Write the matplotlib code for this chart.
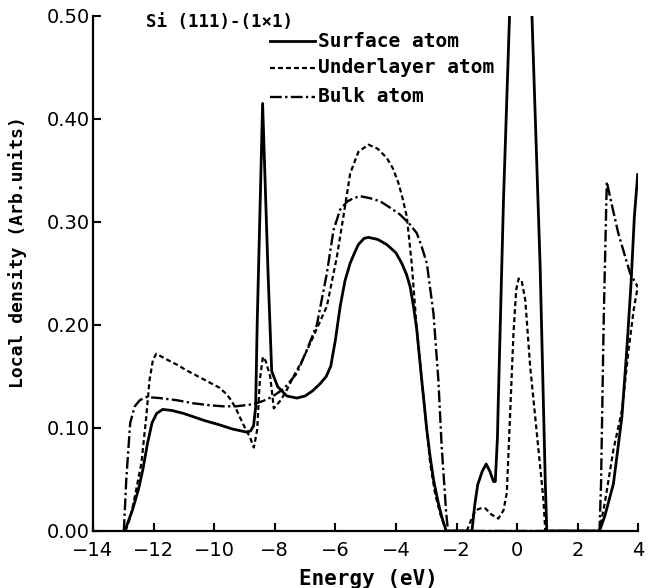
#! /usr/bin/env python

# Local density of states for Si(111)-(1x1): surface, underlayer, bulk atoms

import numpy as np
import matplotlib
matplotlib.use("Agg")
import matplotlib.pyplot as plt
from matplotlib.lines import Line2D

# surface atom (solid)
surf_E = [-12.95, -12.7, -12.5, -12.35, -12.2, -12.05, -11.9, -11.7, -11.4, -11.0,
          -10.7, -10.3, -9.82, -9.4, -8.94, -8.8, -8.7, -8.63, -8.58, -8.4,
          -8.22, -8.1, -7.9, -7.6, -7.27, -7.0, -6.75, -6.5, -6.3, -6.15,
          -6.0, -5.84, -5.68, -5.51, -5.35, -5.24, -5.05, -4.91, -4.6, -4.3,
          -4.0, -3.81, -3.65, -3.53, -3.42, -3.31, -3.15, -2.98, -2.87, -2.76,
          -2.6, -2.49, -2.34, -1.49, -1.4, -1.3, -1.15, -1.02, -0.9, -0.78,
          -0.72, -0.65, -0.62, -0.45, -0.25, 0.12, 0.49, 0.76, 0.93, 0.98,
          2.72, 2.9, 3.18, 3.46, 3.62, 3.76, 3.87, 3.98]
surf_D = [0.0, 0.02, 0.04, 0.06, 0.085, 0.105, 0.114, 0.118, 0.117, 0.114,
          0.111, 0.107, 0.103, 0.099, 0.096, 0.097, 0.102, 0.12, 0.2, 0.415,
          0.25, 0.155, 0.14, 0.131, 0.129, 0.131, 0.136, 0.143, 0.15, 0.16,
          0.185, 0.218, 0.243, 0.26, 0.271, 0.278, 0.284, 0.285, 0.283, 0.278,
          0.27, 0.26, 0.249, 0.237, 0.218, 0.195, 0.147, 0.098, 0.072, 0.05,
          0.027, 0.014, 0.0, 0.0, 0.025, 0.045, 0.058, 0.065, 0.058, 0.048,
          0.048, 0.09, 0.127, 0.321, 0.5, 0.85, 0.5, 0.257, 0.047, 0.0,
          0.0, 0.015, 0.046, 0.111, 0.176, 0.24, 0.305, 0.346]

# underlayer atom (short dashes)
under_E = [-12.92, -12.75, -12.62, -12.4, -12.24, -12.13, -12.02, -11.91, -11.6, -11.2,
           -10.92, -10.4, -9.82, -9.6, -9.49, -9.3, -9.16, -8.95, -8.83, -8.69,
           -8.58, -8.49, -8.39, -8.3, -8.15, -8.03, -7.8, -7.6, -7.38, -7.1,
           -6.83, -6.28, -5.95, -5.68, -5.51, -5.24, -4.91, -4.6, -4.3, -4.1,
           -3.92, -3.78, -3.64, -3.48, -3.31, -3.09, -2.87, -2.7, -2.54, -2.35,
           -1.66, -1.5, -1.38, -1.2, -1.05, -0.85, -0.62, -0.45, -0.34, -0.25,
           -0.12, -0.03, 0.05, 0.15, 0.27, 0.43, 0.65, 0.87, 0.93, 2.72,
           2.91, 3.18, 3.46, 3.68, 3.85, 3.98]
under_D = [0.0, 0.015, 0.033, 0.066, 0.111, 0.147, 0.166, 0.172, 0.167, 0.161,
           0.156, 0.148, 0.139, 0.133, 0.129, 0.12, 0.111, 0.098, 0.092, 0.081,
           0.098, 0.147, 0.169, 0.165, 0.15, 0.119, 0.127, 0.137, 0.15, 0.165,
           0.182, 0.218, 0.266, 0.315, 0.347, 0.368, 0.375, 0.371, 0.362, 0.352,
           0.338, 0.323, 0.305, 0.26, 0.195, 0.13, 0.066, 0.035, 0.017, 0.0,
           0.0, 0.012, 0.02, 0.022, 0.022, 0.016, 0.012, 0.02, 0.037, 0.1,
           0.192, 0.234, 0.245, 0.243, 0.224, 0.16, 0.095, 0.03, 0.0, 0.0,
           0.03, 0.079, 0.117, 0.176, 0.215, 0.237]

# bulk atom (dash-dot)
bulk_E = [-12.98, -12.9, -12.77, -12.62, -12.45, -12.24, -11.8, -11.25, -10.7, -10.15,
          -9.7, -9.27, -8.72, -8.4, -8.1, -7.7, -7.27, -6.95, -6.61, -6.28,
          -6.06, -5.84, -5.6, -5.4, -5.18, -4.85, -4.52, -4.2, -3.86, -3.55,
          -3.31, -3.15, -2.98, -2.76, -2.6, -2.49, -2.34, -2.28, 2.72, 2.77,
          2.86, 2.96, 3.1, 3.34, 3.55, 3.73, 3.98]
bulk_D = [0.0, 0.05, 0.105, 0.121, 0.127, 0.13, 0.129, 0.127, 0.124, 0.122,
          0.121, 0.121, 0.123, 0.126, 0.13, 0.138, 0.153, 0.175, 0.2, 0.25,
          0.292, 0.312, 0.32, 0.323, 0.325, 0.323, 0.32, 0.314, 0.307, 0.298,
          0.289, 0.276, 0.26, 0.211, 0.147, 0.082, 0.017, 0.0, 0.0, 0.046,
          0.208, 0.339, 0.32, 0.289, 0.268, 0.25, 0.237]

xticks = [-14, -12, -10, -8, -6, -4, -2, 0, 2, 4]
yticks = [0.0, 0.1, 0.2, 0.3, 0.4, 0.5]
labels = ["Surface atom", "Underlayer atom", "Bulk atom"]

mono = "DejaVu Sans Mono"

fig = plt.figure(figsize=(6.5, 5.88), dpi=100)
ax = fig.add_axes([0.143, 0.097, 0.839, 0.876])

ls_surf = "-"
ls_under = (0, (2.2, 1.4))
ls_bulk = (0, (5.0, 1.4, 1.0, 1.4))

ax.plot(surf_E, surf_D, color="black", lw=2.0, linestyle=ls_surf)
ax.plot(under_E, under_D, color="black", lw=1.6, linestyle=ls_under)
ax.plot(bulk_E, bulk_D, color="black", lw=1.7, linestyle=ls_bulk)

ax.set_xlim(-14, 4)
ax.set_ylim(0, 0.5)
ax.set_xticks(xticks)
ax.set_yticks(yticks)
ax.set_yticklabels(["%.2f" % v for v in yticks])

for s in ["top", "right"]:
    ax.spines[s].set_visible(False)
for s in ["left", "bottom"]:
    ax.spines[s].set_linewidth(1.6)

ax.tick_params(axis="both", direction="in", length=6, width=1.5, labelsize=14)
ax.tick_params(axis="x", pad=7)
ax.tick_params(axis="y", pad=2)

ax.set_xlabel("Energy (eV)", fontsize=15, family=mono, fontweight="bold")
ax.xaxis.set_label_coords(0.505, -0.074)
ax.set_ylabel("Local density (Arb.units)", fontsize=13, family=mono, fontweight="bold")
ax.yaxis.set_label_coords(-0.121, 0.542)

# title text and hand-placed legend
ax.text(0.097, 0.988, "Si (111)-(1\u00d71)", transform=ax.transAxes, fontsize=12.5,
        family=mono, fontweight="bold", va="center", ha="left")

rows = [0.951, 0.899, 0.843]
styles = [(ls_surf, 2.0), (ls_under, 1.6), (ls_bulk, 1.7)]
for lab, yy, (ls, lw) in zip(labels, rows, styles):
    ax.add_line(Line2D([0.325, 0.407], [yy, yy], transform=ax.transAxes,
                       color="black", lw=lw, linestyle=ls, clip_on=False))
    ax.text(0.413, yy, lab, transform=ax.transAxes, fontsize=14, family=mono,
            fontweight="bold", va="center", ha="left")

plt.savefig("out.png", dpi=100)
